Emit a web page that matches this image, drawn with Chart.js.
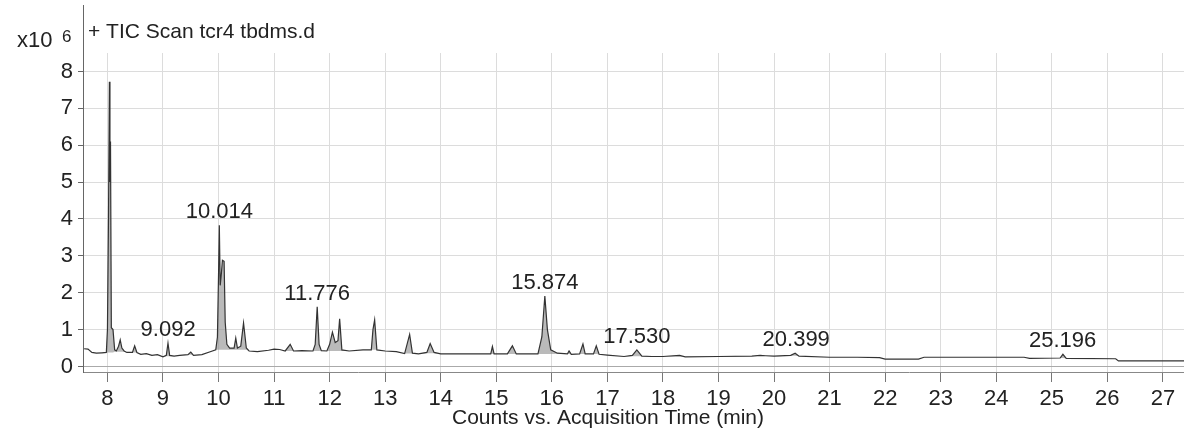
<!DOCTYPE html>
<html>
<head>
<meta charset="utf-8">
<script src="https://cdn.jsdelivr.net/npm/chart.js@4.4.1/dist/chart.umd.min.js"></script>
<style>
  body { margin: 0; background: #fff; }
  canvas { display: block; }
</style>
</head>
<body>
<canvas id="tic" width="1184" height="432"></canvas>
<script>
// retention time (min)
const times = [
  7.58, 7.65, 7.72, 7.8, 7.9, 7.98, 8.0, 8.02, 8.035, 8.045, 8.055, 8.07, 8.1, 8.13, 8.16,
  8.2, 8.23, 8.26, 8.3, 8.35, 8.45, 8.49, 8.53, 8.6, 8.7, 8.8, 8.9, 9.0, 9.06, 9.09,
  9.12, 9.2, 9.3, 9.45, 9.5, 9.55, 9.7, 9.85, 9.95, 9.98, 10.0, 10.014, 10.03, 10.05, 10.07,
  10.1, 10.12, 10.15, 10.2, 10.28, 10.31, 10.34, 10.4, 10.45, 10.5, 10.55, 10.7, 10.9, 11.0, 11.1,
  11.2, 11.29, 11.35, 11.5, 11.7, 11.74, 11.776, 11.81, 11.85, 11.95, 12.0, 12.05, 12.1, 12.15, 12.18,
  12.22, 12.35, 12.6, 12.75, 12.78, 12.81, 12.85, 13.0, 13.2, 13.35, 13.44, 13.49, 13.6, 13.75, 13.81,
  13.88, 14.0, 14.5, 14.9, 14.93, 14.96, 15.2, 15.29, 15.36, 15.75, 15.82, 15.874, 15.92, 15.98, 16.1,
  16.28, 16.31, 16.35, 16.5, 16.56, 16.6, 16.75, 16.8, 16.85, 17.0, 17.3, 17.45, 17.53, 17.62, 17.8,
  18.0, 18.3, 18.4, 19.0, 19.6, 19.75, 19.85, 20.0, 20.3, 20.38, 20.45, 21.0, 21.5, 21.9, 22.0,
  22.6, 22.7, 24.5, 24.6, 25.15, 25.2, 25.26, 26.15, 26.2, 27.4
];

// TIC counts, x10^6
const tic = [
  0.48, 0.47, 0.38, 0.36, 0.37, 0.38, 1.0, 4.2, 7.72, 5.0, 6.1, 1.05, 1.0, 0.45, 0.42,
  0.55, 0.72, 0.5, 0.42, 0.38, 0.38, 0.56, 0.38, 0.33, 0.35, 0.3, 0.32, 0.26, 0.3, 0.63,
  0.3, 0.28, 0.3, 0.32, 0.39, 0.3, 0.32, 0.4, 0.45, 0.8, 2.5, 3.83, 2.2, 2.5, 2.88,
  2.85, 1.2, 0.6, 0.5, 0.5, 0.77, 0.5, 0.55, 1.18, 0.5, 0.42, 0.4, 0.44, 0.47, 0.46,
  0.42, 0.6, 0.42, 0.43, 0.42, 0.6, 1.62, 0.6, 0.43, 0.42, 0.6, 0.93, 0.65, 0.7, 1.29,
  0.45, 0.42, 0.45, 0.45, 1.0, 1.26, 0.45, 0.42, 0.4, 0.35, 0.87, 0.36, 0.34, 0.38, 0.62,
  0.38, 0.34, 0.34, 0.34, 0.54, 0.34, 0.34, 0.56, 0.34, 0.34, 0.8, 1.91, 1.0, 0.45, 0.36,
  0.34, 0.42, 0.33, 0.34, 0.61, 0.34, 0.34, 0.56, 0.33, 0.31, 0.27, 0.3, 0.45, 0.28, 0.27,
  0.27, 0.3, 0.26, 0.27, 0.28, 0.3, 0.29, 0.28, 0.3, 0.36, 0.28, 0.25, 0.25, 0.24, 0.2,
  0.2, 0.25, 0.25, 0.22, 0.23, 0.33, 0.22, 0.21, 0.15, 0.15
];

// integration baseline under the peaks, x10^6
const floor = [
  0.48, 0.47, 0.38, 0.36, 0.37, 0.38, 0.38, 0.38, 0.38, 0.38, 0.38, 0.38, 0.38, 0.4, 0.4,
  0.4, 0.4, 0.4, 0.4, 0.38, 0.38, 0.38, 0.38, 0.33, 0.35, 0.3, 0.32, 0.26, 0.28, 0.28,
  0.28, 0.28, 0.3, 0.32, 0.32, 0.3, 0.32, 0.4, 0.45, 0.45, 0.45, 0.45, 0.45, 0.45, 0.45,
  0.45, 0.45, 0.45, 0.45, 0.45, 0.45, 0.45, 0.45, 0.45, 0.45, 0.42, 0.4, 0.44, 0.47, 0.46,
  0.42, 0.42, 0.42, 0.43, 0.42, 0.42, 0.42, 0.42, 0.43, 0.42, 0.42, 0.42, 0.42, 0.42, 0.42,
  0.42, 0.42, 0.45, 0.45, 0.45, 0.45, 0.45, 0.42, 0.4, 0.35, 0.35, 0.35, 0.34, 0.36, 0.36,
  0.36, 0.34, 0.34, 0.34, 0.34, 0.34, 0.34, 0.34, 0.34, 0.34, 0.34, 0.34, 0.34, 0.34, 0.34,
  0.34, 0.34, 0.33, 0.34, 0.34, 0.34, 0.34, 0.34, 0.33, 0.31, 0.27, 0.28, 0.28, 0.28, 0.27,
  0.27, 0.27, 0.26, 0.27, 0.28, 0.3, 0.29, 0.28, 0.29, 0.29, 0.28, 0.25, 0.25, 0.24, 0.2,
  0.2, 0.25, 0.25, 0.22, 0.23, 0.23, 0.22, 0.21, 0.15, 0.15
];

// labelled peaks
const peakLabels = ["9.092", "10.014", "11.776", "15.874", "17.530", "20.399", "25.196"];

const xTicks = [8, 9, 10, 11, 12, 13, 14, 15, 16, 17, 18, 19, 20, 21, 22, 23, 24, 25, 26, 27];
const yTicks = [0, 1, 2, 3, 4, 5, 6, 7, 8];

const FONT = "'Liberation Sans', Arial, sans-serif";
const TEXT = "#222";

const toPoints = arr => arr.map((v, i) => ({ x: times[i], y: v }));

// peak retention times above the peaks
const peakText = {
  id: "peakText",
  afterDatasetsDraw(chart) {
    const { ctx, scales } = chart;
    ctx.save();
    ctx.font = "22px " + FONT;
    ctx.fillStyle = TEXT;
    ctx.textAlign = "center";
    ctx.textBaseline = "alphabetic";
    peakLabels.forEach(lbl => {
      const t = parseFloat(lbl);
      let best = 0;
      times.forEach((tt, i) => {
        if (Math.abs(tt - t) < Math.abs(times[best] - t)) best = i;
      });
      const px = scales.x.getPixelForValue(t);
      const py = scales.y.getPixelForValue(tic[best]);
      ctx.fillText(lbl, px, py - 7);
    });
    ctx.restore();
  }
};

// header: multiplier, trace name, axis line running up into the header, x title
const header = {
  id: "header",
  afterDraw(chart) {
    const { ctx, chartArea } = chart;
    ctx.save();
    ctx.strokeStyle = "#666";
    ctx.lineWidth = 1;
    ctx.beginPath();
    ctx.moveTo(chartArea.left + 0.5, 5);
    ctx.lineTo(chartArea.left + 0.5, chartArea.top);
    ctx.stroke();

    ctx.fillStyle = TEXT;
    ctx.textBaseline = "alphabetic";
    ctx.font = "22px " + FONT;
    ctx.fillText("x10", 17, 47);
    ctx.font = "17px " + FONT;
    ctx.fillText("6", 62, 42);
    ctx.font = "21px " + FONT;
    ctx.fillText("+ TIC Scan tcr4 tbdms.d", 88, 38);

    ctx.font = "21px " + FONT;
    ctx.textAlign = "center";
    ctx.fillText("Counts vs. Acquisition Time (min)", 608, 424);
    ctx.restore();
  }
};

new Chart(document.getElementById("tic"), {
  type: "line",
  data: {
    datasets: [
      {
        data: toPoints(floor),
        borderWidth: 0,
        borderColor: "rgba(0,0,0,0)",
        pointRadius: 0,
        fill: false
      },
      {
        data: toPoints(tic),
        borderColor: "#333",
        borderWidth: 1.2,
        backgroundColor: "rgba(140,140,140,0.6)",
        pointRadius: 0,
        tension: 0,
        fill: "-1"
      }
    ]
  },
  options: {
    responsive: false,
    animation: false,
    layout: { padding: { top: 53, right: 0, left: 0, bottom: 0 } },
    plugins: {
      legend: { display: false },
      tooltip: { enabled: false }
    },
    scales: {
      x: {
        type: "linear",
        min: 7.56,
        max: 27.38,
        afterBuildTicks: s => { s.ticks = xTicks.map(v => ({ value: v })); },
        afterFit: s => { s.height = 60; },
        grid: {
          color: "#dcdcdc",
          tickColor: "#777",
          tickLength: 10
        },
        border: { color: "#888" },
        ticks: {
          padding: 4,
          maxRotation: 0,
          autoSkip: false,
          color: TEXT,
          font: { family: FONT, size: 22 }
        }
      },
      y: {
        min: -0.15,
        max: 8.5,
        afterBuildTicks: s => { s.ticks = yTicks.map(v => ({ value: v })); },
        afterFit: s => { s.width = 83; },
        grid: {
          color: ctx => (ctx.tick && ctx.tick.value === 0 ? "#aaa" : "#dcdcdc"),
          tickColor: "#666",
          tickLength: 5
        },
        border: { color: "#666" },
        ticks: {
          padding: 5,
          color: TEXT,
          font: { family: FONT, size: 22 }
        }
      }
    }
  },
  plugins: [peakText, header]
});
</script>
</body>
</html>
